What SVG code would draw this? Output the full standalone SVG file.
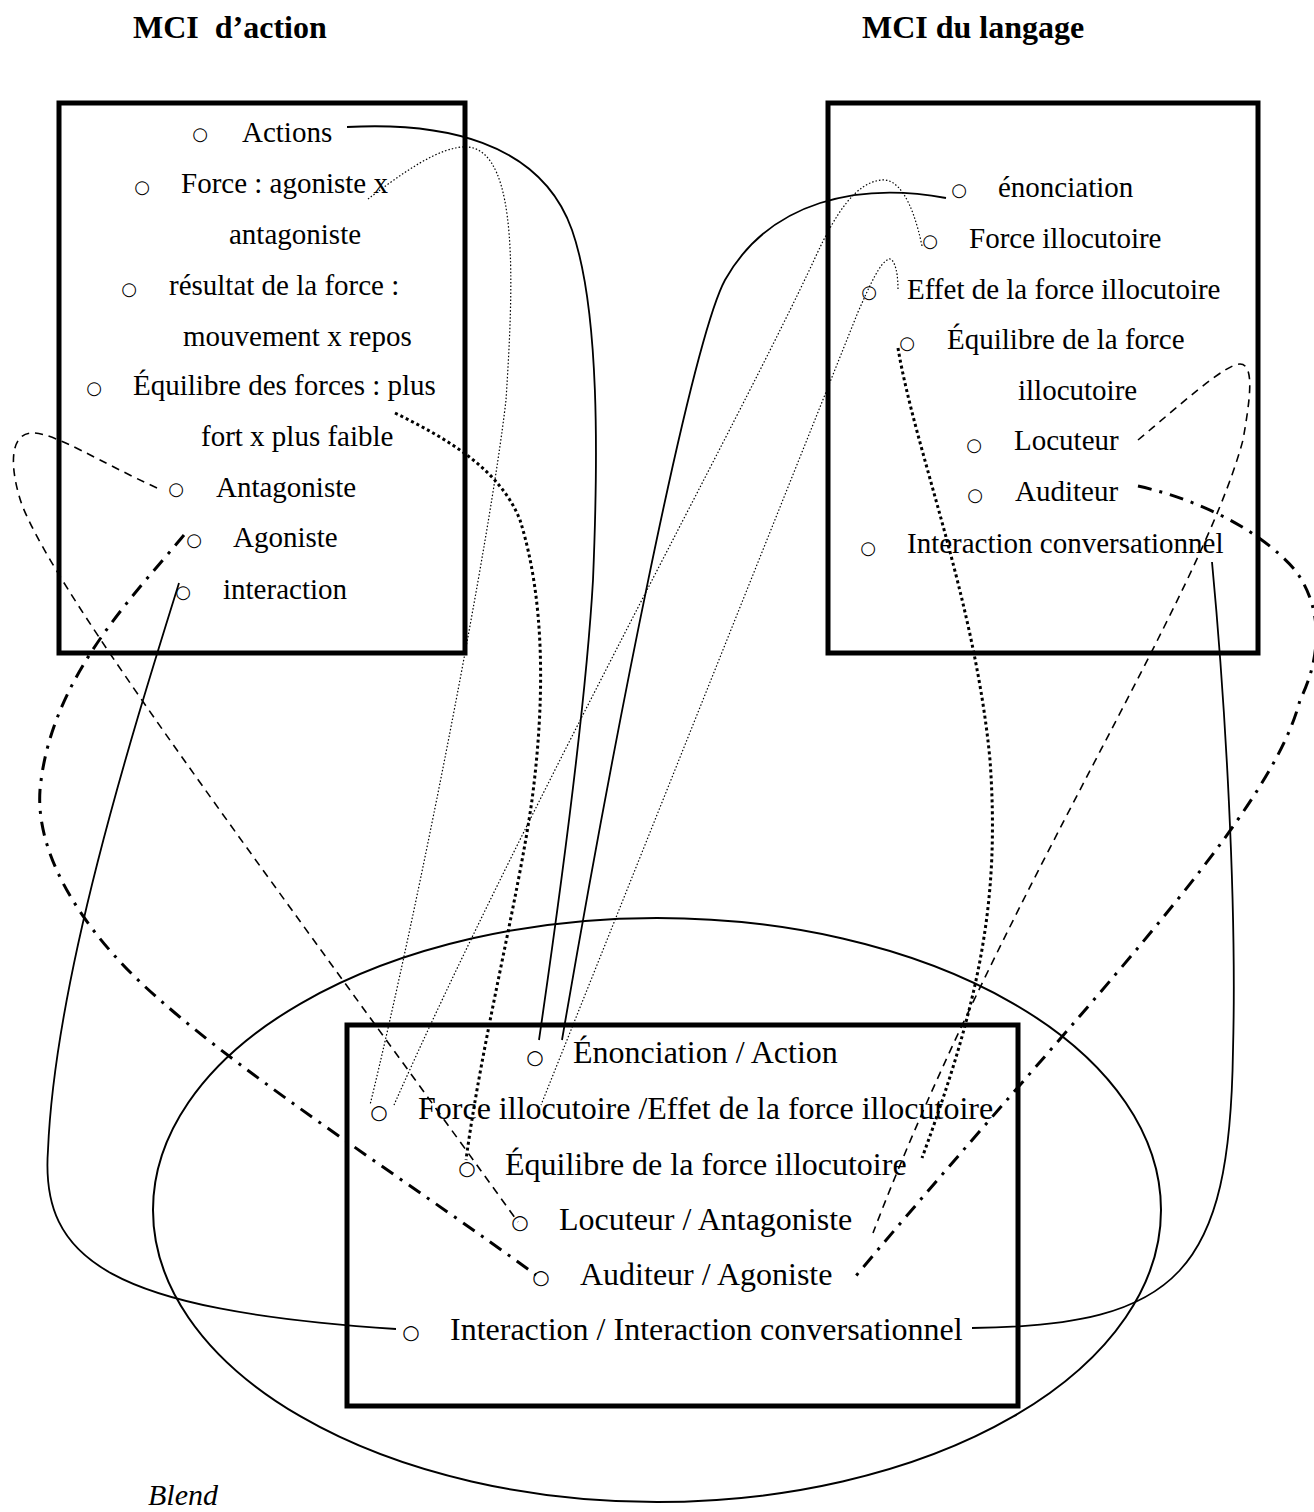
<svg xmlns="http://www.w3.org/2000/svg" width="1314" height="1512" viewBox="0 0 1314 1512">
<style>
  .t{font-family:"Liberation Serif","Times New Roman",serif;font-size:29px;fill:#000}
  .tb{font-family:"Liberation Serif","Times New Roman",serif;font-size:32px;fill:#000}
  .h{font-family:"Liberation Serif","Times New Roman",serif;font-size:32px;font-weight:bold;fill:#000;white-space:pre}
  .bl{font-family:"Liberation Serif","Times New Roman",serif;font-size:30px;font-style:italic;fill:#000}
  .b{font-family:"DejaVu Sans",sans-serif;font-size:18px;fill:#000;text-anchor:middle}
  .bb{font-family:"DejaVu Sans",sans-serif;font-size:20px;fill:#000;text-anchor:middle}
  .box{fill:none;stroke:#000;stroke-width:5}
  .ell{fill:none;stroke:#000;stroke-width:2}
  .c{fill:none;stroke:#000}
  .solid{stroke-width:1.8}
  .fdot{stroke-width:1.2;stroke-dasharray:1.5 2}
  .tdot{stroke-width:3;stroke-dasharray:3 3}
  .dash{stroke-width:1.6;stroke-dasharray:8 6}
  .dd{stroke-width:3;stroke-dasharray:14 8 3 8}
</style>
<rect width="1314" height="1512" fill="#fff"/>

<g id="title-action"><text class="h" x="133" y="38">MCI  d’action</text></g>
<g id="title-langage"><text class="h" x="862" y="38">MCI du langage</text></g>

<g id="node-mci-action">
  <rect class="box" x="59" y="103" width="406" height="550"/>
  <text class="b" x="200" y="140">○</text><text class="t" x="242" y="142">Actions</text>
  <text class="b" x="142" y="193">○</text><text class="t" x="181" y="193">Force : agoniste x</text>
  <text class="t" x="229" y="244">antagoniste</text>
  <text class="b" x="129" y="295">○</text><text class="t" x="169" y="295">résultat de la force :</text>
  <text class="t" x="183" y="346">mouvement x repos</text>
  <text class="b" x="94" y="394">○</text><text class="t" x="133" y="395">Équilibre des forces : plus</text>
  <text class="t" x="201" y="446">fort x plus faible</text>
  <text class="b" x="176" y="495">○</text><text class="t" x="216" y="497">Antagoniste</text>
  <text class="b" x="194" y="546">○</text><text class="t" x="233" y="547">Agoniste</text>
  <text class="b" x="183" y="598">○</text><text class="t" x="223" y="599">interaction</text>
</g>

<g id="node-mci-langage">
  <rect class="box" x="828" y="103" width="430" height="550"/>
  <text class="b" x="959" y="196">○</text><text class="t" x="998" y="197">énonciation</text>
  <text class="b" x="930" y="247">○</text><text class="t" x="969" y="248">Force illocutoire</text>
  <text class="b" x="869" y="298">○</text><text class="t" x="907" y="299">Effet de la force illocutoire</text>
  <text class="b" x="907" y="349">○</text><text class="t" x="947" y="349">Équilibre de la force</text>
  <text class="t" x="1018" y="400">illocutoire</text>
  <text class="b" x="974" y="451">○</text><text class="t" x="1014" y="450">Locuteur</text>
  <text class="b" x="975" y="501">○</text><text class="t" x="1015" y="501">Auditeur</text>
  <text class="b" x="868" y="554">○</text><text class="t" x="907" y="553">Interaction conversationnel</text>
</g>

<g id="node-blend">
  <ellipse class="ell" cx="657" cy="1210" rx="504" ry="292"/>
  <rect class="box" x="347" y="1025" width="671" height="381"/>
  <text class="bb" x="535" y="1064">○</text><text class="tb" x="573" y="1063">Énonciation / Action</text>
  <text class="bb" x="379" y="1119">○</text><text class="tb" x="418" y="1119">Force illocutoire /Effet de la force illocutoire</text>
  <text class="bb" x="467" y="1175">○</text><text class="tb" x="505" y="1175">Équilibre de la force illocutoire</text>
  <text class="bb" x="520" y="1229">○</text><text class="tb" x="559" y="1230">Locuteur / Antagoniste</text>
  <text class="bb" x="541" y="1284">○</text><text class="tb" x="580" y="1285">Auditeur / Agoniste</text>
  <text class="bb" x="411" y="1339">○</text><text class="tb" x="450" y="1340">Interaction / Interaction conversationnel</text>
  <text class="bl" x="148" y="1505">Blend</text>
</g>

<g id="connectors">
  <path class="c solid" d="M347,127 C440,122 540,140 572,230 C600,310 598,460 593,580 C585,720 555,930 539,1040"/>
  <path class="c solid" d="M946,198 C860,182 770,200 725,280 C690,345 610,760 562,1040"/>
  <path class="c fdot" d="M368,199 C400,175 440,145 468,147 C520,152 513,290 506,400 C490,540 420,900 370,1105"/>
  <path class="c fdot" d="M922,246 C912,198 897,178 881,180 C856,183 836,212 815,258 C740,420 520,820 394,1105"/>
  <path class="c fdot" d="M898,289 C898,268 893,258 889,259 C880,262 870,285 858,312 L541,1105"/>
  <path class="c tdot" d="M395,413 C450,440 500,470 520,520 C545,600 545,700 532,800 C518,900 482,1040 466,1160"/>
  <path class="c tdot" d="M898,348 C915,450 975,600 990,760 C1000,900 980,1000 922,1158"/>
  <path class="c dash" d="M157,488 C100,462 55,433 33,433 C8,433 10,470 22,505 C60,600 250,850 518,1222"/>
  <path class="c dash" d="M1138,440 C1180,405 1225,364 1240,364 C1255,364 1250,400 1243,440 C1200,600 1000,900 873,1233"/>
  <path class="c dd" d="M184,535 C130,600 50,680 40,790 C35,860 90,940 160,1000 C250,1080 420,1190 536,1275"/>
  <path class="c dd" d="M1138,486 C1200,500 1260,530 1295,570 C1325,610 1320,660 1300,700 C1270,820 1070,1020 855,1277"/>
  <path class="c solid" d="M179,583 C130,740 55,980 48,1150 C40,1260 110,1310 396,1329"/>
  <path class="c solid" d="M1212,562 C1225,700 1237,900 1233,1050 C1230,1270 1180,1326 972,1328"/>
</g>
</svg>
